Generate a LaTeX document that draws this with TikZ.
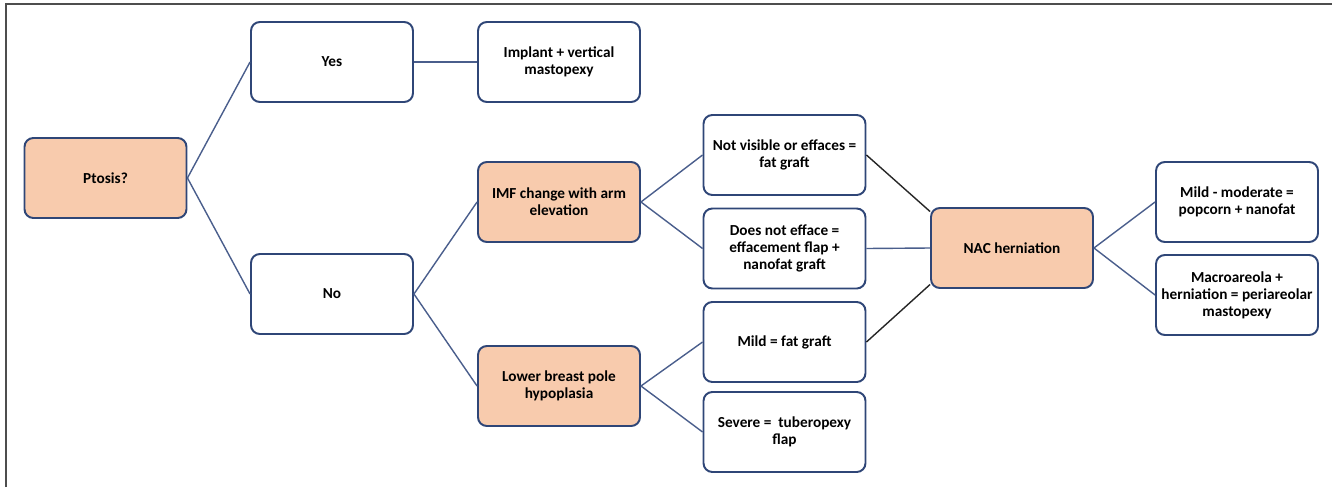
\documentclass[tikz,border=0pt]{standalone}
\usepackage{fontspec}
\setmainfont{Carlito}
\usepackage{xcolor}
\usetikzlibrary{positioning}
\definecolor{peach}{HTML}{F8CBAD}
\definecolor{edge}{HTML}{2F4677}
\definecolor{link}{HTML}{4A5E8C}
\definecolor{frame}{HTML}{4D4D4D}

\tikzset{
  box/.style={draw=edge, line width=1.1pt, rounded corners=5pt, fill=white,
    minimum width=3.24cm, minimum height=1.6cm, align=center,
    inner sep=1pt, font=\fontsize{8.7}{9.6}\selectfont\bfseries},
  keybox/.style={box, fill=peach},
  wire/.style={draw=link, line width=0.8pt},
  dark/.style={draw=black!85, line width=0.8pt}
}

\begin{document}
\begin{tikzpicture}[x=0.02cm, y=-0.02cm]
  \useasboundingbox (0,0) rectangle (1332,487);
  % frame (top and left only)
  \draw[frame, line width=1.2pt] (6,487) -- (6,4) -- (1332,4);

  \node[keybox] (ptosis) at (105.5,178) {Ptosis?};
  \node[box] (yes) at (332,62) {Yes};
  \node[box] (implant) at (559,62) {Implant + vertical\\mastopexy};
  \node[box] (no) at (332,294) {No};
  \node[keybox] (imf) at (559,202) {IMF change with arm\\elevation};
  \node[keybox] (lower) at (559,386) {Lower breast pole\\hypoplasia};
  \node[box] (notvis) at (784.5,155) {Not visible or effaces =\\fat graft};
  \node[box] (noteff) at (784.5,248.5) {Does not efface =\\effacement flap +\\nanofat graft};
  \node[box] (mild) at (784.5,342) {Mild = fat graft};
  \node[box] (severe) at (784.5,432) {Severe =\ \ tuberopexy\\flap};
  \node[keybox] (nac) at (1012,248) {NAC herniation};
  \node[box] (mildmod) at (1237,202) {Mild - moderate =\\popcorn + nanofat};
  \node[box] (macro) at (1237,295) {Macroareola +\\herniation = periareolar\\mastopexy};

  % connectors
  \draw[wire] (ptosis.east) -- (yes.west);
  \draw[wire] (ptosis.east) -- (no.west);
  \draw[wire] (yes.east) -- (implant.west);
  \draw[wire] (no.east) -- (imf.west);
  \draw[wire] (no.east) -- (lower.west);
  \draw[wire] (imf.east) -- (notvis.west);
  \draw[wire] (imf.east) -- (noteff.west);
  \draw[wire] (lower.east) -- (mild.west);
  \draw[wire] (lower.east) -- (severe.west);
  \draw[dark] (notvis.east) -- (nac.156);
  \draw[wire] (noteff.east) -- (nac.west);
  \draw[dark] (mild.east) -- (nac.204);
  \draw[wire] (nac.east) -- (mildmod.west);
  \draw[wire] (nac.east) -- (macro.west);
\end{tikzpicture}
\end{document}
